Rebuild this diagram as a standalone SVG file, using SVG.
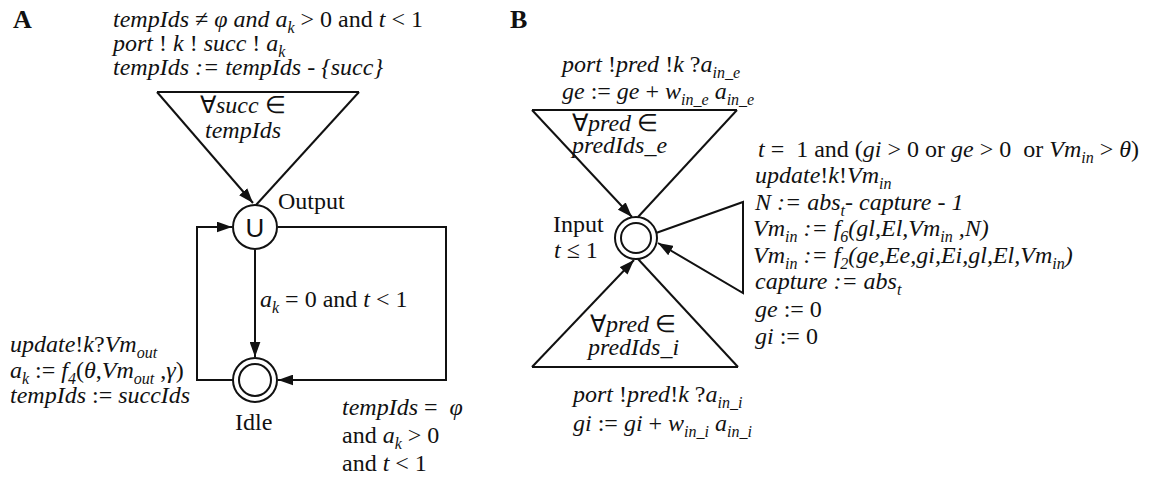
<svg xmlns="http://www.w3.org/2000/svg" width="1151" height="477" viewBox="0 0 1151 477">
<style>
text{font-family:"Liberation Serif","Times New Roman",serif;font-size:24px;fill:#111;white-space:pre}
.i{font-style:italic}
.s{font-size:16px;font-style:italic}
.lbl{font-weight:bold;font-size:26px}
.ln{stroke:#111;stroke-width:2;fill:none}
.nd{stroke:#111;stroke-width:2;fill:#fff}
</style>
<defs>
<marker id="ah" viewBox="0 0 14 10" refX="14" refY="5" markerWidth="15" markerHeight="11" orient="auto" markerUnits="userSpaceOnUse"><path d="M0,0 L14,5 L0,10 z" fill="#111"/></marker>
</defs>

<text class="lbl" x="13" y="28">A</text>
<text class="lbl" x="510" y="28">B</text>

<g id="connectors">
  <!-- Panel A -->
  <line class="ln" x1="157" y1="92" x2="359" y2="92"/>
  <line class="ln" x1="157" y1="92" x2="253" y2="203" marker-end="url(#ah)"/>
  <line class="ln" x1="359" y1="92" x2="256" y2="205"/>
  <polyline class="ln" points="233,380 197,380 197,227 232,227" marker-end="url(#ah)"/>
  <polyline class="ln" points="278,227 446,227 446,380 278,380" marker-end="url(#ah)"/>
  <line class="ln" x1="255" y1="250" x2="255" y2="357" marker-end="url(#ah)"/>
  <!-- Panel B -->
  <line class="ln" x1="532" y1="110" x2="737" y2="110"/>
  <line class="ln" x1="532" y1="110" x2="632" y2="217" marker-end="url(#ah)"/>
  <line class="ln" x1="737" y1="110" x2="638" y2="217"/>
  <line class="ln" x1="532" y1="367" x2="738" y2="367"/>
  <line class="ln" x1="532" y1="367" x2="634" y2="260" marker-end="url(#ah)"/>
  <line class="ln" x1="638" y1="259" x2="738" y2="367"/>
  <polyline class="ln" points="656,233 743,202 743,293 658,243" marker-end="url(#ah)"/>
</g>

<g id="node-output">
  <circle class="nd" cx="255" cy="227" r="22"/>
  <text x="255" y="237" text-anchor="middle" style="font-family:'Liberation Sans',Arial,sans-serif;font-size:26px">U</text>
  <text x="278" y="209">Output</text>
</g>
<g id="node-idle">
  <circle class="nd" cx="255" cy="380" r="22"/>
  <circle class="ln" cx="255" cy="380" r="16"/>
  <text x="235" y="430">Idle</text>
</g>
<g id="node-input">
  <circle class="nd" cx="636" cy="238" r="21"/>
  <circle class="ln" cx="636" cy="238" r="15"/>
  <text><tspan x="553" y="232">Input</tspan><tspan x="554" y="258" class="i">t</tspan><tspan> ≤ 1</tspan></text>
</g>

<g id="labels-A">
  <text><tspan x="113" y="27" class="i">tempIds ≠ φ and a</tspan><tspan class="s" dy="6">k</tspan><tspan dy="-6"> &gt; 0 and </tspan><tspan class="i">t</tspan><tspan> &lt; 1</tspan><tspan x="113" y="51" class="i">port</tspan><tspan> ! </tspan><tspan class="i">k</tspan><tspan> ! </tspan><tspan class="i">succ</tspan><tspan> ! </tspan><tspan class="i">a</tspan><tspan class="s" dy="6">k</tspan><tspan x="113" y="75" class="i">tempIds := tempIds - {succ}</tspan></text>
  <text><tspan x="200" y="113">∀</tspan><tspan class="i">succ</tspan><tspan> ∈</tspan><tspan x="205" y="138" class="i">tempIds</tspan></text>
  <text x="260" y="307"><tspan class="i">a</tspan><tspan class="s" dy="6">k</tspan><tspan dy="-6"> = 0 and </tspan><tspan class="i">t</tspan> &lt; 1</text>
  <text><tspan x="10" y="352" class="i">update</tspan><tspan>!</tspan><tspan class="i">k</tspan><tspan>?</tspan><tspan class="i">Vm</tspan><tspan class="s" dy="6">out</tspan><tspan x="10" y="378" class="i">a</tspan><tspan class="s" dy="6">k</tspan><tspan dy="-6"> := </tspan><tspan class="i">f</tspan><tspan class="s" dy="6">4</tspan><tspan dy="-6">(</tspan><tspan class="i">θ</tspan><tspan>,</tspan><tspan class="i">Vm</tspan><tspan class="s" dy="6">out</tspan><tspan dy="-6"> ,</tspan><tspan class="i">γ</tspan><tspan>)</tspan><tspan x="10" y="403" class="i">tempIds</tspan><tspan> := </tspan><tspan class="i">succIds</tspan></text>
  <text><tspan x="342" y="415" class="i">tempIds</tspan><tspan> =  </tspan><tspan class="i">φ</tspan><tspan x="342" y="443">and </tspan><tspan class="i">a</tspan><tspan class="s" dy="6">k</tspan><tspan dy="-6"> &gt; 0</tspan><tspan x="342" y="471">and </tspan><tspan class="i">t</tspan><tspan> &lt; 1</tspan></text>
</g>

<g id="labels-B">
  <text><tspan x="562" y="72" class="i">port</tspan><tspan> !</tspan><tspan class="i">pred</tspan><tspan> !</tspan><tspan class="i">k</tspan><tspan> ?</tspan><tspan class="i">a</tspan><tspan class="s" dy="6">in_e</tspan><tspan x="562" y="99" class="i">ge</tspan><tspan> := </tspan><tspan class="i">ge</tspan><tspan> + </tspan><tspan class="i">w</tspan><tspan class="s" dy="6">in_e</tspan><tspan dy="-6"> </tspan><tspan class="i">a</tspan><tspan class="s" dy="6">in_e</tspan></text>
  <text><tspan x="572" y="131">∀</tspan><tspan class="i">pred</tspan><tspan> ∈</tspan><tspan x="572" y="153" class="i">predIds_e</tspan></text>
  <text><tspan x="590" y="332">∀</tspan><tspan class="i">pred</tspan><tspan> ∈</tspan><tspan x="588" y="355" class="i">predIds_i</tspan></text>
  <text><tspan x="573" y="402" class="i">port</tspan><tspan> !</tspan><tspan class="i">pred</tspan><tspan>!</tspan><tspan class="i">k</tspan><tspan> ?</tspan><tspan class="i">a</tspan><tspan class="s" dy="6">in_i</tspan><tspan x="573" y="431" class="i">gi</tspan><tspan> := </tspan><tspan class="i">gi</tspan><tspan> + </tspan><tspan class="i">w</tspan><tspan class="s" dy="6">in_i</tspan><tspan dy="-6"> </tspan><tspan class="i">a</tspan><tspan class="s" dy="6">in_i</tspan></text>
  <text><tspan x="758" y="157" class="i">t</tspan><tspan> =  1 and (</tspan><tspan class="i">gi</tspan><tspan> &gt; 0 or </tspan><tspan class="i">ge</tspan><tspan> &gt; 0  or </tspan><tspan class="i">Vm</tspan><tspan class="s" dy="6">in</tspan><tspan dy="-6"> &gt; </tspan><tspan class="i">θ</tspan><tspan>)</tspan><tspan x="755" y="183" class="i">update</tspan><tspan>!</tspan><tspan class="i">k</tspan><tspan>!</tspan><tspan class="i">Vm</tspan><tspan class="s" dy="6">in</tspan><tspan x="755" y="210" class="i">N := abs</tspan><tspan class="s" dy="6">t</tspan><tspan class="i" dy="-6">- capture - 1</tspan><tspan x="753" y="236" class="i">Vm</tspan><tspan class="s" dy="6">in</tspan><tspan class="i" dy="-6"> := f</tspan><tspan class="s" dy="6">6</tspan><tspan class="i" dy="-6">(gl,El,Vm</tspan><tspan class="s" dy="6">in</tspan><tspan class="i" dy="-6"> ,N)</tspan><tspan x="753" y="263" class="i">Vm</tspan><tspan class="s" dy="6">in</tspan><tspan class="i" dy="-6"> := f</tspan><tspan class="s" dy="6">2</tspan><tspan class="i" dy="-6">(ge,Ee,gi,Ei,gl,El,Vm</tspan><tspan class="s" dy="6">in</tspan><tspan class="i" dy="-6">)</tspan><tspan x="755" y="289" class="i">capture := abs</tspan><tspan class="s" dy="6">t</tspan><tspan x="755" y="317" class="i">ge</tspan><tspan> := 0</tspan><tspan x="755" y="344" class="i">gi</tspan><tspan> := 0</tspan></text>
</g>
</svg>
